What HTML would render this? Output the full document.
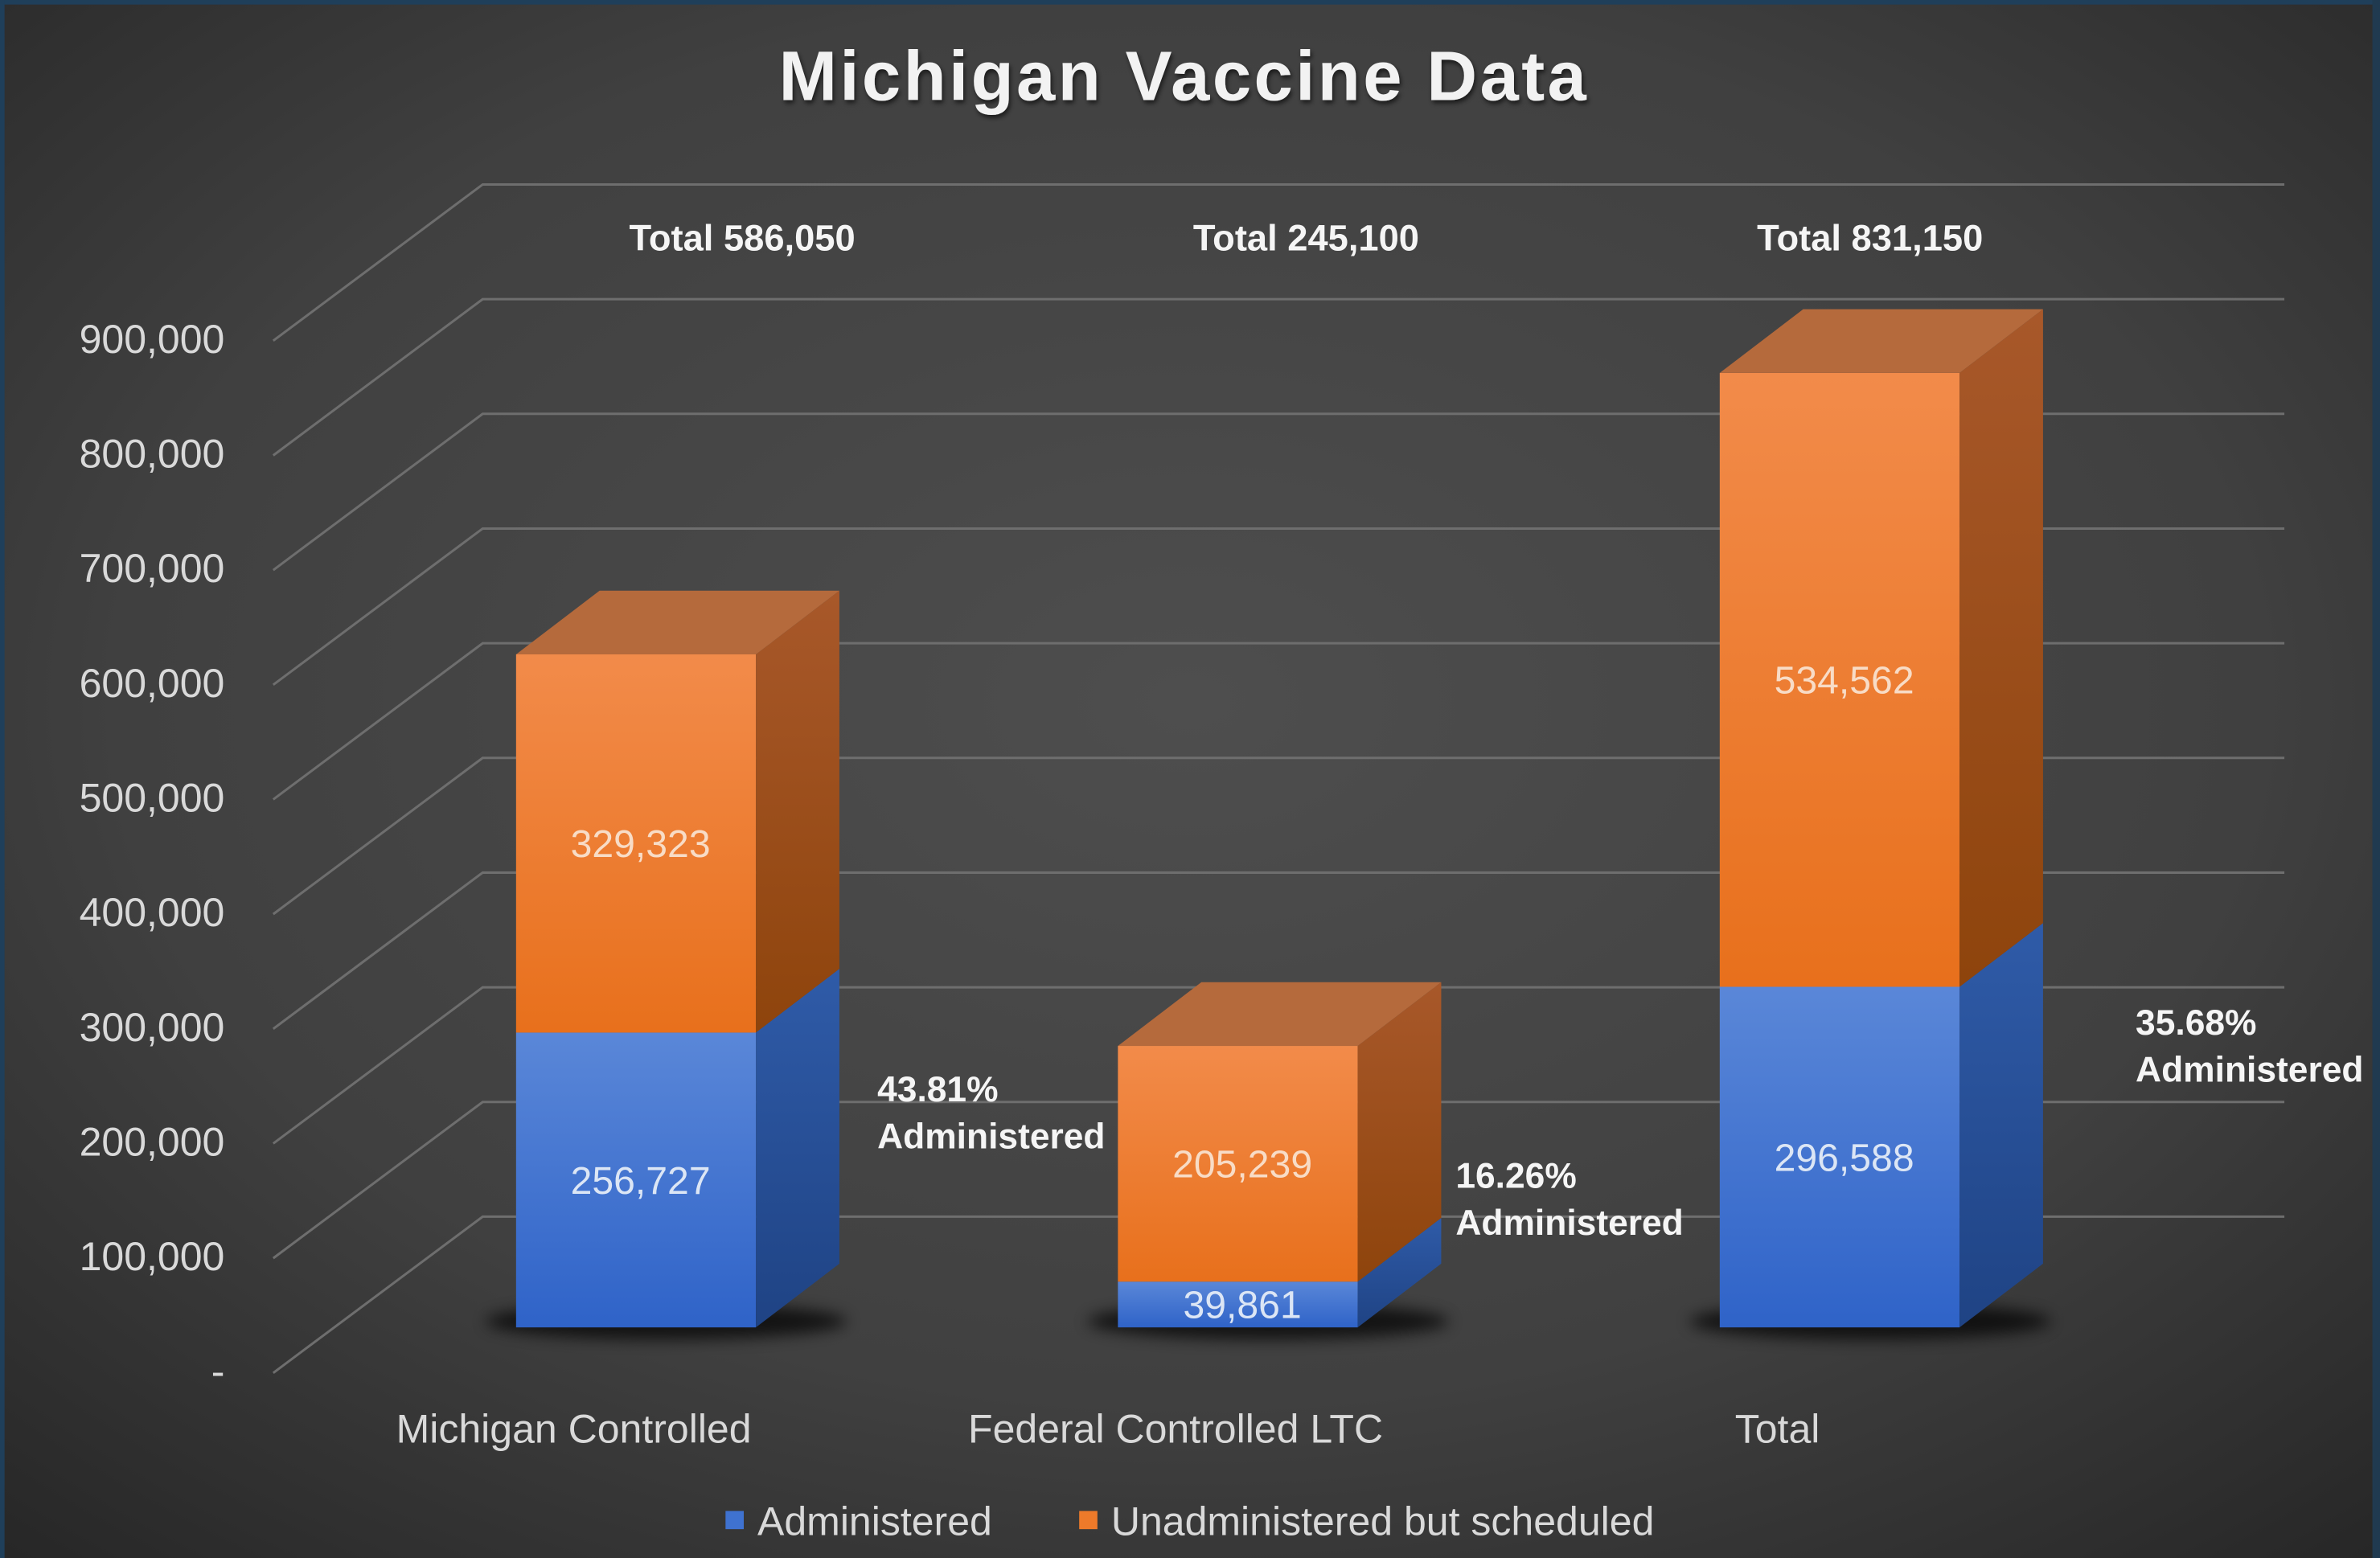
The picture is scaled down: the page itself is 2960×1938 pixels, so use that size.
<!DOCTYPE html>
<html><head><meta charset="utf-8">
<style>
html,body{margin:0;padding:0;background:#2a2a2a;}
svg{display:block;}
text{font-family:"Liberation Sans","DejaVu Sans",sans-serif;}
</style></head>
<body>
<svg id="chart" width="2960" height="1938" viewBox="0 0 1568 1027" preserveAspectRatio="none" xmlns="http://www.w3.org/2000/svg">
<defs>
<radialGradient id="bg" cx="0.5" cy="0.45" r="0.75">
<stop offset="0" stop-color="#4e4e4e"/><stop offset="0.6" stop-color="#404040"/><stop offset="1" stop-color="#262626"/>
</radialGradient>
<linearGradient id="orF" x1="0" y1="0" x2="0" y2="1"><stop offset="0" stop-color="#f28b4a"/><stop offset="1" stop-color="#e8701c"/></linearGradient>
<linearGradient id="blF" x1="0" y1="0" x2="0" y2="1"><stop offset="0" stop-color="#5a87d8"/><stop offset="1" stop-color="#2f63c8"/></linearGradient>
<linearGradient id="orS" x1="0" y1="0" x2="0" y2="1"><stop offset="0" stop-color="#a8582a"/><stop offset="1" stop-color="#8e440c"/></linearGradient>
<linearGradient id="blS" x1="0" y1="0" x2="0" y2="1"><stop offset="0" stop-color="#2f5ba8"/><stop offset="1" stop-color="#1f4384"/></linearGradient>
<filter id="blur" x="-20%" y="-50%" width="140%" height="200%"><feGaussianBlur stdDeviation="5"/></filter>
<filter id="ts"><feDropShadow dx="1" dy="2" stdDeviation="1.5" flood-color="#000" flood-opacity="0.6"/></filter>
</defs>
<rect x="0" y="0" width="1568" height="1027" fill="url(#bg)"/>
<rect x="0" y="0" width="1568" height="3" fill="#1f3f5a"/>
<rect x="0" y="0" width="3" height="1027" fill="#1f3f5a"/>
<rect x="1563" y="0" width="5" height="1027" fill="#203a50"/>
<text x="780" y="66" text-anchor="middle" font-size="46" font-weight="bold" fill="#f2f2f2" letter-spacing="1.8" filter="url(#ts)">Michigan Vaccine Data</text>
<g id="grid"></g>
<g id="bars"></g>
<g id="labels"></g>
<g>
<rect x="478" y="996" width="12" height="12" fill="#3f72d0"/>
<text x="499" y="1012" font-size="26.5" fill="#d9d9d9">Administered</text>
<rect x="711" y="996" width="12" height="12" fill="#ee7a2a"/>
<text x="732" y="1012" font-size="26.5" fill="#d9d9d9">Unadministered but scheduled</text>
</g>
</svg>
<script>
const categories = ["Michigan Controlled", "Federal Controlled LTC", "Total"];
const administered = [256727, 39861, 296588];
const unadministered = [329323, 205239, 534562];
const totalLabels = ["Total 586,050", "Total 245,100", "Total 831,150"];
const pctLabels = ["43.81%", "16.26%", "35.68%"];
const tickValues = [0, 100000, 200000, 300000, 400000, 500000, 600000, 700000, 800000, 900000];
const tickLabels = ["-", "100,000", "200,000", "300,000", "400,000", "500,000", "600,000", "700,000", "800,000", "900,000"];

// layout (label placement, not data)
const pctPosX = [578, 959, 1407];
const pctPosY = [726, 783, 682];

const NS = "http://www.w3.org/2000/svg";
function mk(tag, attrs, parent){ const e=document.createElementNS(NS,tag); for(const k in attrs) e.setAttribute(k,attrs[k]); parent.appendChild(e); return e; }
const backY = v => 802 - v*0.000756;
const frontY = v => backY(v) + 103;
const barY = v => 875 - v*0.000757;
const barX = i => 340 + i*396.5;
const BW = 158, DX = 55, DY = -42;

const grid = document.getElementById('grid');
tickValues.forEach((v,i)=>{
  const yb = backY(v), yf = frontY(v);
  const p = mk('polyline',{points:`180,${yf} 318,${yb} 1505,${yb}`,fill:'none',stroke:'#6e6e6e','stroke-width':1.6},grid);
  
  
  const t = mk('text',{x:148,y:yf+8,'text-anchor':'end','font-size':26.5,fill:'#d9d9d9'},grid);
  t.textContent = tickLabels[i];
  
  
});

const bars = document.getElementById('bars');
const labels = document.getElementById('labels');
categories.forEach((c,i)=>{
  const x = barX(i);
  const y0 = barY(0), y1 = barY(administered[i]), y2 = barY(administered[i]+unadministered[i]);
  const sh = mk('ellipse',{cx:x+BW/2+20,cy:y0-4,rx:BW/2+40,ry:12,fill:'#000',opacity:0.7,filter:'url(#blur)'},bars);
  
  
  const segs = [[y0,y1,'blF','blS','administered'],[y1,y2,'orF','orS','unadministered']];
  segs.forEach(s=>{
    const f = mk('rect',{x:x,y:s[1],width:BW,height:s[0]-s[1],fill:`url(#${s[2]})`},bars);
    
    
    const sd = mk('polygon',{points:`${x+BW},${s[0]} ${x+BW+DX},${s[0]+DY} ${x+BW+DX},${s[1]+DY} ${x+BW},${s[1]}`,fill:`url(#${s[3]})`},bars);
    
    
  });
  const tp = mk('polygon',{points:`${x},${y2} ${x+BW},${y2} ${x+BW+DX},${y2+DY} ${x+DX},${y2+DY}`,fill:'#b56a3c'},bars);
  
  

  const la = mk('text',{x:x+BW/2+3,y:(y0+y1)/2+9,'text-anchor':'middle','font-size':25.5,fill:'#dce6f5'},labels);
  la.textContent = administered[i].toLocaleString('en-US');
  
  
  const lu = mk('text',{x:x+BW/2+3,y:(y1+y2)/2+9,'text-anchor':'middle','font-size':25.5,fill:'#f8dcc6'},labels);
  lu.textContent = unadministered[i].toLocaleString('en-US');
  
  

  const tt = mk('text',{x:x+149-(i*25),y:165,'text-anchor':'middle','font-size':24,'font-weight':'bold',fill:'#f5f5f5'},labels);
  tt.textContent = totalLabels[i];
  
  

  const px = pctPosX[i], py = pctPosY[i];
  const p1 = mk('text',{x:px,y:py,'font-size':23.5,'font-weight':'bold',fill:'#f5f5f5'},labels);
  p1.textContent = pctLabels[i];
  
  
  const p2 = mk('text',{x:px,y:py+31,'font-size':23.5,'font-weight':'bold',fill:'#f5f5f5'},labels);
  p2.textContent = 'Administered';
  
  

  const cl = mk('text',{x:x+38,y:951,'text-anchor':'middle','font-size':26.5,fill:'#d9d9d9'},labels);
  cl.textContent = c;
  
  
});
</script>
</body></html>
